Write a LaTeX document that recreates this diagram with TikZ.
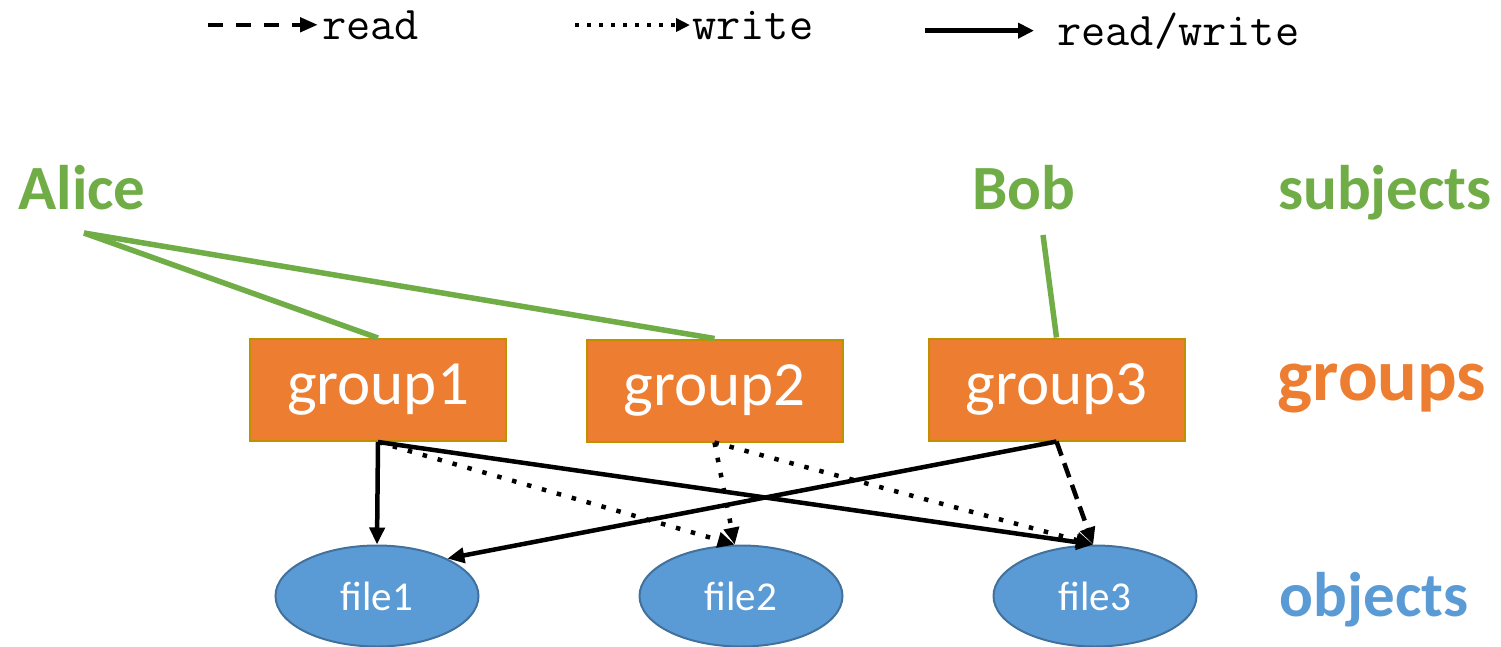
\documentclass[tikz,border=0pt]{standalone}
\usepackage{fontspec}
\setmainfont{Carlito}
\usetikzlibrary{arrows.meta,shapes.geometric}

\definecolor{subjgreen}{HTML}{70AD47}
\definecolor{grouporange}{HTML}{ED7D31}
\definecolor{groupedge}{HTML}{BF9000}
\definecolor{objblue}{HTML}{5B9BD5}
\definecolor{objedge}{HTML}{41719C}

\tikzset{
  groupbox/.style={rectangle, draw=groupedge, fill=grouporange, line width=2pt,
    minimum width=256pt, minimum height=102pt, inner sep=0pt, text=white,
    font=\fontsize{63}{70}\selectfont},
  filebox/.style={ellipse, draw=objedge, fill=objblue, line width=2pt,
    minimum width=203pt, minimum height=101pt, inner sep=0pt, text=white,
    font=\fontsize{41}{48}\selectfont},
  subjlabel/.style={text=subjgreen, inner sep=0pt, font=\bfseries\fontsize{63}{70}\selectfont},
  grouplabel/.style={text=grouporange, inner sep=0pt, font=\bfseries\fontsize{74}{80}\selectfont},
  objlabel/.style={text=objblue, inner sep=0pt, font=\bfseries\fontsize{63}{70}\selectfont},
  member/.style={draw=subjgreen, line width=5.5pt},
  tip/.style={-{Triangle[length=17pt,width=15pt]}},
  rwarrow/.style={tip, line width=4.5pt},
  rdarrow/.style={tip, line width=4.5pt, dash pattern=on 15pt off 8pt},
  wrarrow/.style={tip, line width=4.5pt, dash pattern=on 4.5pt off 11pt},
  legendtext/.style={inner sep=0pt, anchor=base west, font=\ttfamily\fontsize{47}{52}\selectfont},
}

\begin{document}
\begin{tikzpicture}[x=1pt,y=-1pt]
\useasboundingbox (0,0) rectangle (1501,646);

% legend
\node[legendtext] (lgRead) at (322,39) {read};
\node[legendtext] (lgWrite) at (692,39) {write};
\node[legendtext] (lgRW) at (1057,45) {read/write};
\draw[line width=4.5pt, dash pattern=on 15pt off 13pt, -{Triangle[length=18pt,width=14pt]}]
  ([xshift=-114pt]lgRead.west) -- ([xshift=-4pt]lgRead.west);
\draw[line width=4pt, dash pattern=on 4pt off 8pt, -{Triangle[length=14pt,width=13pt]}]
  ([xshift=-117pt]lgWrite.west) -- ([xshift=-2pt]lgWrite.west);
\draw[line width=5pt, -{Triangle[length=16pt,width=15pt]}]
  ([xshift=-132pt]lgRW.west) -- ([xshift=-23pt]lgRW.west);

% subjects
\node[subjlabel] (alice) at (82,188) {Alice};
\node[subjlabel] (bob) at (1024,188) {Bob};
\coordinate (aliceFoot) at (84,233);
\coordinate (bobFoot) at (1043,235);

% groups
\node[groupbox] (g1) at (378,390) {group1};
\node[groupbox] (g2) at (714.5,390.5) {group2};
\node[groupbox] (g3) at (1056.5,389.5) {group3};

% objects
\node[filebox] (f1) at (377,596) {file1};
\node[filebox] (f2) at (741,596) {file2};
\node[filebox] (f3) at (1095,596) {file3};

% layer labels
\node[subjlabel] (subjects) at (1385,193) {subjects};
\node[grouplabel] (groups) at (1382,388) {groups};
\node[objlabel] (objects) at (1374,600) {objects};

% membership
\draw[member] (aliceFoot) -- (g1.north);
\draw[member] (aliceFoot) -- (g2.north);
\draw[member] (bobFoot) -- (g3.north);

% permissions
\draw[rwarrow] (g1.south) -- (f1.north);
\draw[wrarrow] (g1.south) -- (f2.97);
\draw[rwarrow] (g1.south) -- (f3.92);
\draw[wrarrow] (g2.south) -- (f2.97);
\draw[wrarrow] (g2.south) -- (f3.92);
\draw[rwarrow] (g3.south) -- (f1.28);
\draw[rdarrow] (g3.south) -- (f3.92);
\end{tikzpicture}
\end{document}
